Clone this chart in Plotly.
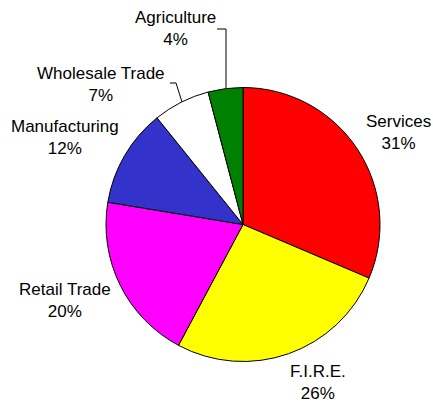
import plotly.graph_objects as go

# Data
categories = ["Services", "F.I.R.E.", "Retail Trade", "Manufacturing", "Wholesale Trade", "Agriculture"]
shares = [31.4, 26.4, 19.8, 11.6, 6.7, 4.1]
colors = ["#FF0000", "#FFFF00", "#FF00FF", "#3333CC", "#FFFFFF", "#008000"]

W, H = 433, 402
# label block centres (pixels, from top-left)
label_pos = {
    "Services": (398, 132),
    "F.I.R.E.": (318, 382),
    "Retail Trade": (65, 300),
    "Manufacturing": (65, 137),
    "Wholesale Trade": (101, 85),
    "Agriculture": (175, 29),
}

def px(x, y):
    return x / W, 1 - y / H

fig = go.Figure()
fig.add_trace(go.Pie(
    labels=categories, values=shares, sort=False, direction="clockwise", rotation=0,
    marker=dict(colors=colors, line=dict(color="black", width=1)),
    textinfo="none", showlegend=False,
    domain=dict(x=[106 / W, 380 / W], y=[40.5 / H, 314.5 / H]),
))

total = sum(shares)
annotations = []
for c, v in zip(categories, shares):
    x, y = px(*label_pos[c])
    annotations.append(dict(
        x=x, y=y, xref="paper", yref="paper", xanchor="center", yanchor="middle",
        text=f"{c}<br>{round(100 * v / total)}%", showarrow=False, align="center",
        font=dict(family="Liberation Sans, Arial", size=17, color="#000000"),
    ))

def path(points):
    d = ""
    for i, (x, y) in enumerate(points):
        X, Y = px(x, y)
        d += ("M" if i == 0 else " L") + f" {X} {Y}"
    return d

shapes = [
    dict(type="path", xref="paper", yref="paper", path=path([(217, 29), (226, 29), (226, 88)]),
         line=dict(color="black", width=1)),
    dict(type="path", xref="paper", yref="paper", path=path([(170, 83), (176, 83), (182, 102)]),
         line=dict(color="black", width=1)),
]

fig.update_layout(
    width=W, height=H, margin=dict(l=0, r=0, t=0, b=0),
    paper_bgcolor="white", plot_bgcolor="white",
    annotations=annotations, shapes=shapes,
)
fig.write_html("out.html")
